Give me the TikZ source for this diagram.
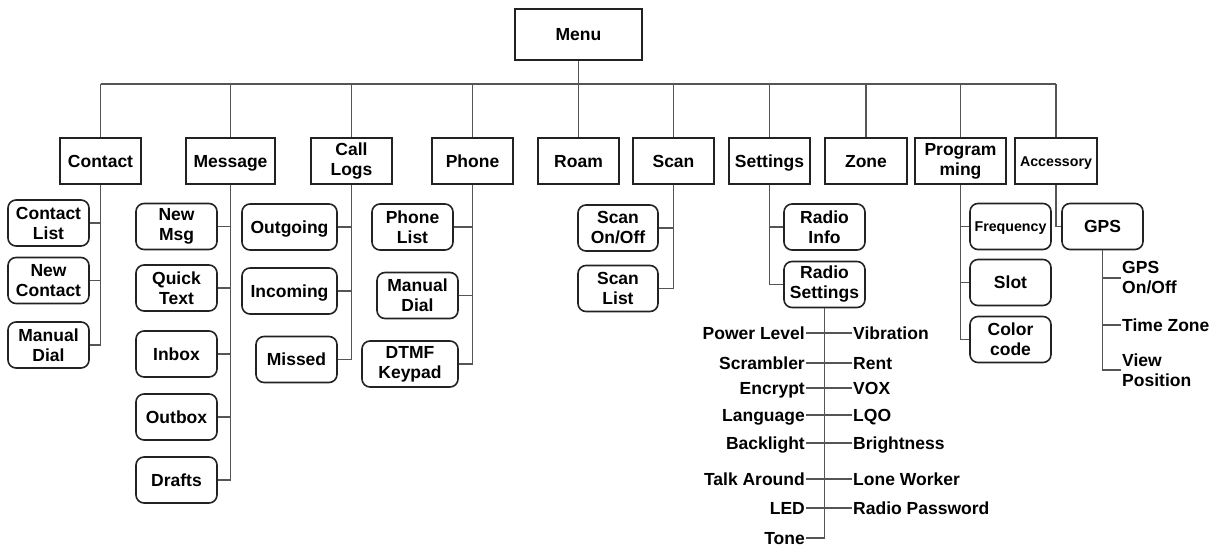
\documentclass[tikz,border=0pt]{standalone}
\usepackage{fontspec}
\setmainfont{Liberation Sans}
\definecolor{ln}{HTML}{555555}
\definecolor{bd}{HTML}{222222}
\begin{document}
\begin{tikzpicture}[x=1pt,y=-1pt,
  every node/.style={font=\fontsize{17.5}{20}\bfseries\selectfont, text=black},
  small/.style={font=\fontsize{14.2}{16}\bfseries\selectfont, text height=10.2pt, text depth=0pt},
  one/.style={text height=12.5pt, text depth=0pt},
  L1/.style={draw=bd, line width=1.6pt, rectangle, inner sep=0pt, align=center, minimum height=46pt},
  L2/.style={L1, rounded corners=8pt},
  lab/.style={inner sep=1pt, text height=12.5pt, text depth=0pt},
  lab2/.style={inner sep=1pt, align=left},
  con/.style={draw=ln, line width=1.8pt}
]
\useasboundingbox (0,0) rectangle (1225,547);
\coordinate (bus) at (0,84);
% top
\node[L1, one, minimum width=127pt, minimum height=51pt] (menu) at (578.5,34.5) {Menu};
% level 1
\node[L1, one, minimum width=81pt] (contact) at (100.5,161) {Contact};
\node[L1, one, minimum width=89pt] (message) at (230.5,161) {Message};
\node[L1, minimum width=81pt] (calllogs) at (351.5,161) {Call\\Logs};
\node[L1, one, minimum width=81pt] (phone) at (472.5,161) {Phone};
\node[L1, one, minimum width=81pt] (roam) at (578.5,161) {Roam};
\node[L1, one, minimum width=81pt] (scan) at (673.5,161) {Scan};
\node[L1, one, minimum width=81pt] (settings) at (769.5,161) {Settings};
\node[L1, one, minimum width=82pt] (zone) at (866,161) {Zone};
\node[L1, minimum width=91pt] (prog) at (960.5,161) {Program\\ming};
\node[L1, small, minimum width=82pt] (access) at (1056,161) {Accessory};
\draw[con] (menu.south) -- (menu.south |- bus);
\draw[con] (contact.north |- bus) -- (access.north |- bus);
\foreach \n in {contact,message,calllogs,phone,roam,scan,settings,zone,prog,access}
  \draw[con] (\n.north) -- (\n.north |- bus);
% contact children
\node[L2, minimum width=81pt] (clist) at (48.5,223) {Contact\\List};
\node[L2, minimum width=81pt] (cnew) at (48.5,280.5) {New\\Contact};
\node[L2, minimum width=81pt] (cdial) at (48.5,345) {Manual\\Dial};
\foreach \n in {clist,cnew,cdial} \draw[con] (contact.south) |- (\n.east);
% message children
\node[L2, minimum width=81pt] (mnew) at (176.5,226.5) {New\\Msg};
\node[L2, minimum width=81pt] (mquick) at (176.5,288) {Quick\\Text};
\node[L2, one, minimum width=81pt] (minbox) at (176.5,354) {Inbox};
\node[L2, one, minimum width=81pt] (moutbox) at (176.5,417) {Outbox};
\node[L2, one, minimum width=81pt] (mdrafts) at (176.5,480) {Drafts};
\foreach \n in {mnew,mquick,minbox,moutbox,mdrafts} \draw[con] (message.south) |- (\n.east);
% call logs children
\node[L2, one, minimum width=95pt] (lout) at (289.5,227) {Outgoing};
\node[L2, one, minimum width=95pt] (lin) at (289.5,291) {Incoming};
\node[L2, one, minimum width=81pt] (lmiss) at (296.5,359.5) {Missed};
\foreach \n in {lout,lin,lmiss} \draw[con] (calllogs.south) |- (\n.east);
% phone children
\node[L2, minimum width=81pt] (plist) at (412.5,227) {Phone\\List};
\node[L2, minimum width=81pt] (pdial) at (417.5,295.5) {Manual\\Dial};
\node[L2, minimum width=96pt] (pdtmf) at (410,364) {DTMF\\Keypad};
\foreach \n in {plist,pdial,pdtmf} \draw[con] (phone.south) |- (\n.east);
% scan children
\node[L2, minimum width=80pt] (son) at (618,228) {Scan\\On/Off};
\node[L2, minimum width=80pt] (slist) at (618,288.5) {Scan\\List};
\foreach \n in {son,slist} \draw[con] (scan.south) |- (\n.east);
% settings children
\node[L2, minimum width=81pt] (rinfo) at (824.5,227) {Radio\\Info};
\node[L2, minimum width=81pt] (rs) at (824.5,284.5) {Radio\\Settings};
\foreach \n in {rinfo,rs} \draw[con] (settings.south) |- (\n.west);
% radio settings items
\foreach \l/\r/\y in {Power Level/Vibration/333, Scrambler/Rent/363, Encrypt/VOX/388, Language/LQO/415, Backlight/Brightness/443, Talk Around/Lone Worker/479, LED/Radio Password/508}{
  \node[lab, anchor=east] (l\y) at (806,\y) {\l};
  \node[lab, anchor=west] (r\y) at (852,\y) {\r};
  \draw[con] (l\y.east) -- (r\y.west);
}
\node[lab, anchor=east] (tone) at (806,538) {Tone};
\draw[con] (rs.south) |- (tone.east);
% programming children
\node[L2, small, minimum width=81pt] (freq) at (1010.5,226.5) {Frequency};
\node[L2, one, minimum width=81pt] (slot) at (1010.5,282.5) {Slot};
\node[L2, minimum width=81pt] (color) at (1010.5,339.5) {Color\\code};
\foreach \n in {freq,slot,color} \draw[con] (prog.south) |- (\n.west);
% accessory
\node[L2, one, minimum width=81pt] (gps) at (1102.5,226.5) {GPS};
\draw[con] (access.south) |- (gps.west);
\node[lab2, anchor=west] (gon) at (1121,278) {GPS\\On/Off};
\node[lab, anchor=west] (gtz) at (1121,325) {Time Zone};
\node[lab2, anchor=west] (gview) at (1121,370) {View\\Position};
\foreach \n in {gon,gtz,gview} \draw[con] (gps.south) |- (\n.west);
\end{tikzpicture}
\end{document}
